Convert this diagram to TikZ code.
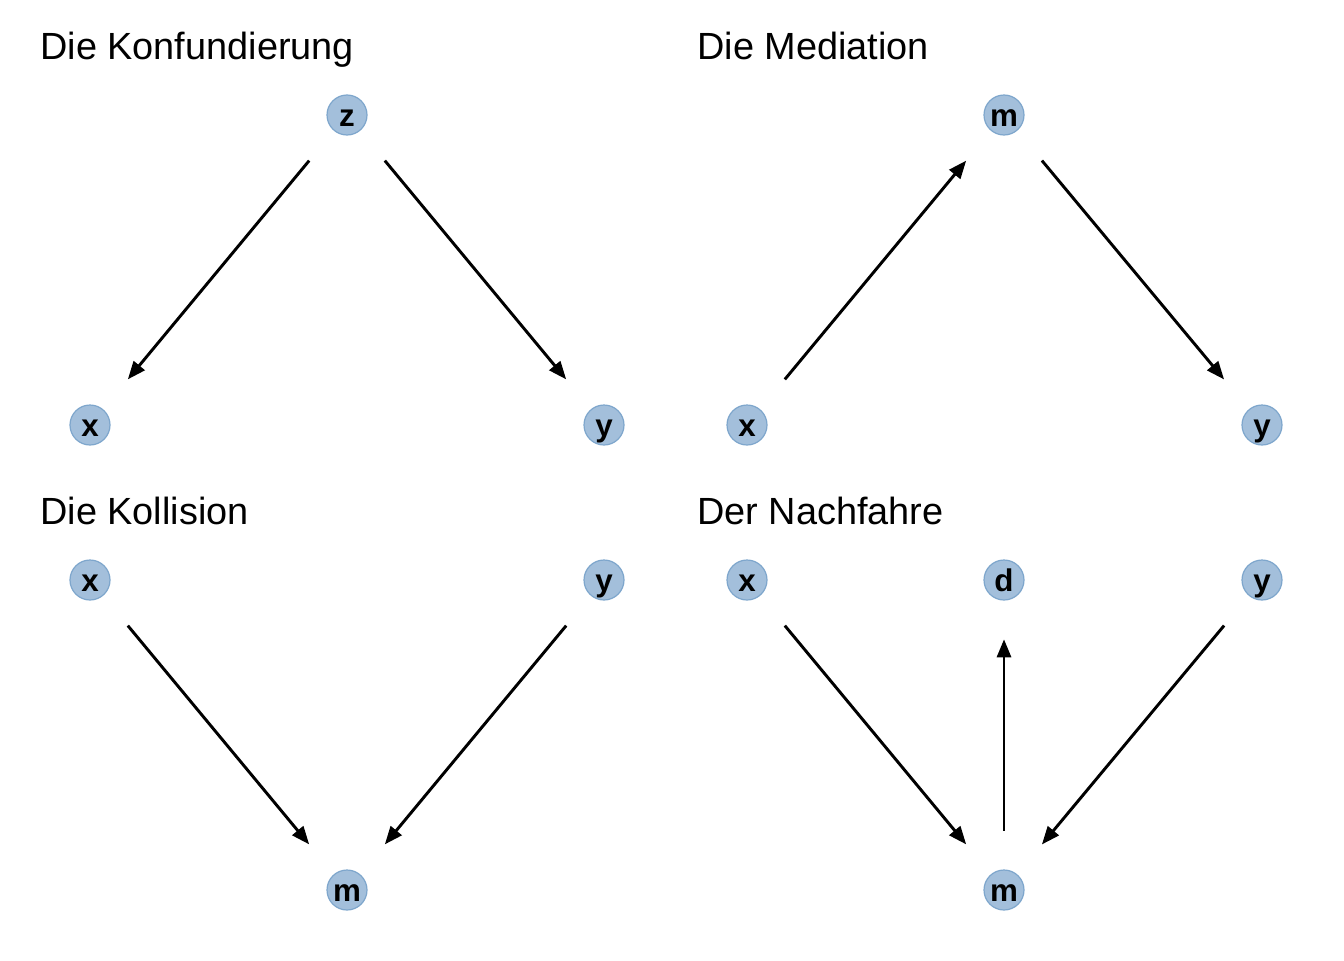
\documentclass[tikz,border=0pt]{standalone}
\usepackage{fontspec}
\setmainfont{Liberation Sans}
\usetikzlibrary{arrows.meta}

\definecolor{nodefill}{HTML}{A3BFDB}
\definecolor{nodeedge}{HTML}{7EA6CC}

\tikzset{
    var/.style={circle, fill=nodefill, draw=nodeedge, line width=0.9pt,
        minimum size=30pt, inner sep=0pt, text height=16.5pt, text depth=0pt,
        font=\fontsize{23.5}{23.5}\selectfont\bfseries},
    edge/.style={-{Triangle[length=13.5pt,width=10.5pt]}, line width=2.2pt,
        shorten <=29pt, shorten >=29pt},
    paneltitle/.style={anchor=base west, inner sep=0pt, font=\fontsize{28.4}{28.4}\selectfont}
}

\begin{document}
\begin{tikzpicture}[x=0.75pt, y=-0.75pt]
        \useasboundingbox (0,0) rectangle (1344,960);

        % Die Konfundierung
        \node[paneltitle] (t1) at (40,59) {Die Konfundierung};
        \node[var] (kz) at (347,115) {z};
        \node[var] (kx) at (90,425) {x};
        \node[var] (ky) at (604,425) {y};
        \draw[edge] (kz) -- (kx);
        \draw[edge] (kz) -- (ky);

        % Die Mediation
        \node[paneltitle] (t2) at (697,59) {Die Mediation};
        \node[var] (mm) at (1004,115) {m};
        \node[var] (mx) at (747,425) {x};
        \node[var] (my) at (1262,425) {y};
        \draw[edge] (mx) -- (mm);
        \draw[edge] (mm) -- (my);

        % Die Kollision
        \node[paneltitle] (t3) at (40,524) {Die Kollision};
        \node[var] (cx) at (90,580) {x};
        \node[var] (cy) at (604,580) {y};
        \node[var] (cm) at (347,890) {m};
        \draw[edge] (cx) -- (cm);
        \draw[edge] (cy) -- (cm);

        % Der Nachfahre
        \node[paneltitle] (t4) at (697,524) {Der Nachfahre};
        \node[var] (nx) at (747,580) {x};
        \node[var] (nd) at (1004,580) {d};
        \node[var] (ny) at (1262,580) {y};
        \node[var] (nm) at (1004,890) {m};
        \draw[edge] (nx) -- (nm);
        \draw[edge] (ny) -- (nm);
        \draw[edge] (nm) -- (nd);
\end{tikzpicture}
\end{document}
